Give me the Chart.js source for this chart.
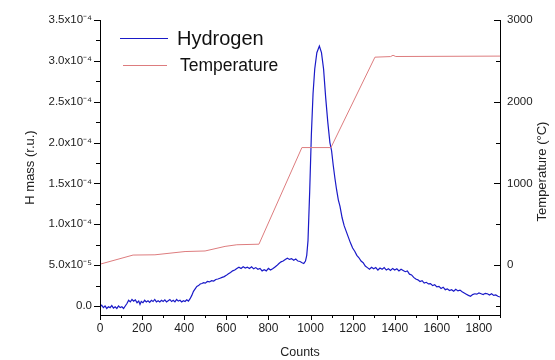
<!DOCTYPE html>
<html lang="en">
<head>
    <meta charset="UTF-8">
    <title>Hydrogen and temperature</title>
    <script src="https://cdn.jsdelivr.net/npm/chart.js"></script>
    <style>
        body { margin: 0; background: #fff; }
        #wrap { width: 555px; height: 360px; }
    </style>
</head>
<body>
<div id="wrap"><canvas id="myChart"></canvas></div>
<script>
// hydrogen signal, in units of 1e-5 (r.u.)
const hCounts = [
    0, 8, 16, 24, 32, 40, 48, 56, 64, 72,
    80, 88, 96, 104, 112, 120, 128, 136, 144, 152,
    160, 168, 176, 184, 190, 196, 204, 212, 220, 228,
    236, 244, 252, 260, 268, 276, 284, 292, 300, 308,
    316, 324, 332, 340, 348, 356, 364, 372, 380, 388,
    396, 404, 412, 420, 428, 436, 444, 452, 460, 468,
    476, 484, 492, 500, 510, 520, 530, 540, 550, 560,
    570, 580, 590, 600, 610, 620, 630, 640, 650, 660,
    670, 680, 690, 700, 710, 720, 730, 740, 750, 760,
    770, 780, 790, 800, 810, 820, 830, 840, 850, 860,
    870, 880, 890, 900, 910, 920, 930, 940, 950, 960,
    968, 976, 982, 988, 996, 1004, 1012, 1020, 1030, 1042,
    1052, 1062, 1072, 1082, 1092, 1100, 1108, 1116, 1124, 1132,
    1140, 1150, 1160, 1170, 1180, 1190, 1200, 1210, 1220, 1230,
    1240, 1250, 1260, 1270, 1280, 1290, 1300, 1310, 1320, 1330,
    1340, 1350, 1360, 1370, 1380, 1390, 1400, 1410, 1420, 1430,
    1440, 1450, 1460, 1470, 1480, 1490, 1500, 1510, 1520, 1530,
    1540, 1550, 1560, 1570, 1580, 1590, 1600, 1610, 1620, 1630,
    1640, 1650, 1660, 1670, 1680, 1690, 1700, 1710, 1720, 1730,
    1740, 1750, 1760, 1770, 1780, 1790, 1800, 1810, 1820, 1830,
    1840, 1850, 1860, 1870, 1880, 1890, 1900];
const hydrogenE5 = [
    -0.1, 0.1, -0.2, 0.0, -0.3, -0.1, -0.2, 0.05, -0.25, -0.1,
    -0.3, 0.0, -0.2, -0.1, -0.3, 0.0, 0.3, 0.7, 0.5, 0.8,
    0.6, 0.75, 0.4, 0.6, 0.2, 0.55, 0.4, 0.7, 0.5, 0.65,
    0.45, 0.7, 0.55, 0.8, 0.5, 0.65, 0.5, 0.7, 0.55, 0.75,
    0.5, 0.65, 0.8, 0.55, 0.7, 0.5, 0.8, 0.6, 0.7, 0.5,
    0.65, 0.55, 0.75, 0.6, 0.9, 1.3, 1.8, 2.1, 2.4, 2.5,
    2.7, 2.75, 2.85, 2.8, 3.0, 2.95, 3.1, 3.05, 3.25, 3.3,
    3.4, 3.5, 3.6, 3.75, 3.95, 4.1, 4.3, 4.4, 4.6, 4.75,
    4.6, 4.8, 4.65, 4.75, 4.6, 4.8, 4.55, 4.7, 4.5, 4.6,
    4.3, 4.45, 4.3, 4.6, 4.4, 4.55, 4.75, 4.95, 5.2, 5.4,
    5.5, 5.7, 5.85, 5.7, 5.8, 5.6, 5.75, 5.5, 5.45, 5.3,
    5.2, 5.5, 6.2, 8.0, 14, 21, 26, 29, 31, 31.8,
    31, 29, 25.5, 22.5, 20, 19, 17.2, 15.6, 14.2, 13.0,
    12.2, 10.8, 9.8, 9.1, 8.4, 7.7, 7.1, 6.7, 6.2, 5.9,
    5.5, 5.3, 4.9, 4.7, 4.5, 4.75, 4.55, 4.7, 4.4, 4.65,
    4.5, 4.7, 4.4, 4.55, 4.35, 4.6, 4.4, 4.55, 4.3, 4.5,
    4.35, 4.2, 4.3, 3.9, 3.8, 3.5, 3.3, 3.2, 3.0, 3.1,
    2.8, 2.9, 2.7, 2.75, 2.5, 2.6, 2.35, 2.4, 2.15, 2.3,
    2.0, 2.1, 1.9, 2.0, 1.8, 2.05, 1.85, 1.95, 1.75, 1.6,
    1.45, 1.3, 1.2, 1.4, 1.5, 1.45, 1.6, 1.5, 1.4, 1.55,
    1.5, 1.35, 1.5, 1.3, 1.35, 1.2, 1.1];

// temperature, degrees C
const tCounts = [0, 157, 261, 404, 499, 594, 650, 755, 959, 1097, 1306, 1380, 1392, 1405, 1900];
const tempC = [10, 122, 125, 165, 172, 228, 248, 255, 1438, 1438, 2545, 2552, 2568, 2553, 2558];

const xTicks = [0, 200, 400, 600, 800, 1000, 1200, 1400, 1600, 1800];
const hTicks = [0, 5, 10, 15, 20, 25, 30, 35];
const hTickLabels = ['0.0', '5.0x10\u207B\u2075', '1.0x10\u207B\u2074', '1.5x10\u207B\u2074', '2.0x10\u207B\u2074',
    '2.5x10\u207B\u2074', '3.0x10\u207B\u2074', '3.5x10\u207B\u2074'];
const tTicks = [0, 1000, 2000, 3000];

const FONT = 'Liberation Sans, Arial, sans-serif';

function setTicks(values) {
    return scale => { scale.ticks = values.map(v => ({ value: v })); };
}

// majors plus half-way minors, kept inside the axis range
function minorTicks(scale) {
    const v = scale.ticks.map(t => t.value);
    const step = v[1] - v[0];
    const out = [];
    for (let i = -1; i < v.length; i++) {
        const m = (i < 0 ? v[0] - step : v[i]) + step / 2;
        if (m >= scale.min && m <= scale.max) out.push(m);
    }
    return out;
}

const axesPlugin = {
    id: 'axes',
    afterDatasetsDraw(chart) {
        const { ctx, chartArea: a, scales } = chart;
        ctx.save();
        ctx.strokeStyle = '#000';
        ctx.lineWidth = 1;
        ctx.beginPath();
        ctx.moveTo(a.left + 0.5, a.top);
        ctx.lineTo(a.left + 0.5, a.bottom + 0.5);
        ctx.lineTo(a.right + 0.5, a.bottom + 0.5);
        ctx.moveTo(a.right + 0.5, a.top);
        ctx.lineTo(a.right + 0.5, a.bottom + 0.5);

        const x = scales.x, yH = scales.yH, yT = scales.yT;
        x.ticks.forEach(t => { const p = Math.round(x.getPixelForValue(t.value)) + 0.5; ctx.moveTo(p, a.bottom); ctx.lineTo(p, a.bottom + 5); });
        minorTicks(x).forEach(v => { const p = Math.round(x.getPixelForValue(v)) + 0.5; ctx.moveTo(p, a.bottom); ctx.lineTo(p, a.bottom + 3); });
        yH.ticks.forEach(t => { const p = Math.round(yH.getPixelForValue(t.value)) + 0.5; ctx.moveTo(a.left - 6, p); ctx.lineTo(a.left, p); });
        minorTicks(yH).forEach(v => { const p = Math.round(yH.getPixelForValue(v)) + 0.5; ctx.moveTo(a.left - 4, p); ctx.lineTo(a.left, p); });
        yT.ticks.forEach(t => { const p = Math.round(yT.getPixelForValue(t.value)) + 0.5; ctx.moveTo(a.right - 6, p); ctx.lineTo(a.right, p); });
        minorTicks(yT).forEach(v => { const p = Math.round(yT.getPixelForValue(v)) + 0.5; ctx.moveTo(a.right - 4, p); ctx.lineTo(a.right, p); });
        ctx.stroke();

        // right axis title, reading bottom to top
        ctx.fillStyle = '#222';
        ctx.font = '13px ' + FONT;
        ctx.textAlign = 'center';
        ctx.textBaseline = 'middle';
        ctx.translate(542, (a.top + a.bottom) / 2 + 4);
        ctx.rotate(-Math.PI / 2);
        ctx.fillText('Temperature (\u00B0C)', 0, 0);
        ctx.restore();

        // legend inside the plot
        const items = [
            { ds: chart.data.datasets[1], y: a.top + 18, x0: a.left + 20, x1: a.left + 68, tx: a.left + 77, size: 20 },
            { ds: chart.data.datasets[0], y: a.top + 45, x0: a.left + 23, x1: a.left + 67, tx: a.left + 80, size: 17.5 }
        ];
        ctx.save();
        items.forEach(it => {
            ctx.strokeStyle = it.ds.borderColor;
            ctx.lineWidth = 1.2;
            ctx.beginPath();
            ctx.moveTo(it.x0, it.y + 0.5);
            ctx.lineTo(it.x1, it.y + 0.5);
            ctx.stroke();
            ctx.fillStyle = '#111';
            ctx.font = it.size + 'px ' + FONT;
            ctx.textBaseline = 'middle';
            ctx.fillText(it.ds.label, it.tx, it.y + 1);
        });
        ctx.restore();
    }
};

const ctx = document.getElementById('myChart').getContext('2d');
const myChart = new Chart(ctx, {
    type: 'line',
    data: {
        datasets: [{
            label: 'Temperature',
            data: tCounts.map((c, i) => ({ x: c, y: tempC[i] })),
            yAxisID: 'yT',
            borderColor: '#dd7c7e',
            borderWidth: 1,
            pointRadius: 0,
            tension: 0
        }, {
            label: 'Hydrogen',
            data: hCounts.map((c, i) => ({ x: c, y: hydrogenE5[i] })),
            yAxisID: 'yH',
            borderColor: '#1a1ac8',
            borderWidth: 1.2,
            pointRadius: 0,
            tension: 0
        }]
    },
    options: {
        responsive: true,
        maintainAspectRatio: false,
        animation: false,
        layout: { padding: { top: 20, left: 0, right: 0, bottom: 0 } },
        plugins: { legend: { display: false }, tooltip: { enabled: false } },
        scales: {
            x: {
                type: 'linear',
                min: 0, max: 1900,
                afterBuildTicks: setTicks(xTicks),
                afterFit: s => { s.height = 45; },
                grid: { display: false, drawTicks: false },
                border: { display: false },
                ticks: { autoSkip: false, maxRotation: 0, padding: 6, color: '#222', font: { family: FONT, size: 12 },
                    callback: v => String(v) },
                title: { display: true, text: 'Counts', color: '#222', padding: 0, font: { family: FONT, size: 12.5 } }
            },
            yH: {
                type: 'linear',
                position: 'left',
                min: -1.1, max: 35,
                afterBuildTicks: setTicks(hTicks),
                afterFit: s => { s.width = 100; },
                grid: { display: false, drawTicks: false },
                border: { display: false },
                ticks: { padding: 8, color: '#222', font: { family: FONT, size: 11.5 },
                    callback: (v, i) => hTickLabels[i] },
                title: { display: true, text: 'H mass (r.u.)', color: '#222', padding: { top: 23, bottom: 0 }, font: { family: FONT, size: 13 } }
            },
            yT: {
                type: 'linear',
                position: 'right',
                min: -612, max: 3000,
                afterBuildTicks: setTicks(tTicks),
                afterFit: s => { s.width = 55; },
                grid: { display: false, drawTicks: false },
                border: { display: false },
                ticks: { padding: 7, color: '#222', font: { family: FONT, size: 11.5 },
                    callback: v => String(v) }
            }
        }
    },
    plugins: [axesPlugin]
});
</script>
</body>
</html>
